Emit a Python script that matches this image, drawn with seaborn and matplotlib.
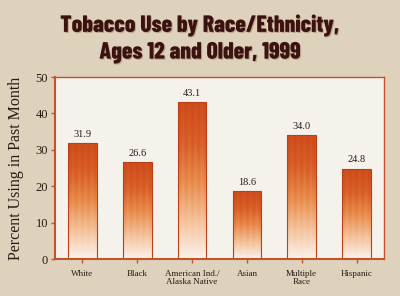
import numpy as np
import pandas as pd
import matplotlib
matplotlib.use("Agg")
import matplotlib.pyplot as plt
import matplotlib.patheffects as pe
from matplotlib.colors import LinearSegmentedColormap
import seaborn as sns

categories = ["White", "Black", "American Ind./\nAlaska Native", "Asian", "Multiple\nRace", "Hispanic"]
values = [31.9, 26.6, 43.1, 18.6, 34.0, 24.8]
value_labels = ["31.9", "26.6", "43.1", "18.6", "34.0", "24.8"]
yticks = [0, 10, 20, 30, 40, 50]

title = "Tobacco Use by Race/Ethnicity,\nAges 12 and Older, 1999"
ylabel = "Percent Using in Past Month"

sns.set_theme(style="white")
plt.rcParams['font.family'] = ['Liberation Serif', 'DejaVu Serif']

BG = "#DED2BC"
PLOT_BG = "#F4F2EA"
FRAME = "#C4532C"

fig = plt.figure(figsize=(4.0, 2.96), dpi=100, facecolor=BG)
ax = fig.add_axes([55/400, 1-259/296, (384-55)/400, (259-77)/296])
ax.set_facecolor(PLOT_BG)

df = pd.DataFrame({"cat": categories, "val": values})
sns.barplot(data=df, x="cat", y="val", ax=ax, width=0.52, color="#D8602A",
            edgecolor="#B8401A", linewidth=0.8, saturation=1)

cmap = LinearSegmentedColormap.from_list(
    "grad", ["#FBF2EA", "#F4C098", "#E88A4A", "#D85E26", "#CE4C1C"])
ny, nx = 200, 40
yy = np.linspace(0, 1, ny)[:, None]
xx = np.linspace(0, 1, nx)[None, :]
stripes = 0.06 * np.sin(xx * np.pi * 9) * yy
for p in ax.patches:
    x0, w, h = p.get_x(), p.get_width(), p.get_height()
    grad = np.clip(yy * np.ones_like(xx) + stripes, 0, 1)
    im = ax.imshow(grad, cmap=cmap, vmin=0, vmax=1, origin="lower",
                   extent=[x0, x0 + w, 0, h], aspect="auto", zorder=p.get_zorder() + 0.1)
    im.set_clip_path(p)
    p.set_facecolor("none")
    p.set_zorder(p.get_zorder() + 0.2)

for i, (v, lab) in enumerate(zip(values, value_labels)):
    ax.text(i, v + 1.2, lab, ha="center", va="bottom", fontsize=7.5, color="#2A1A14")

ax.set_xlim(-0.5, len(categories) - 0.5)
ax.set_ylim(0, 50)
ax.set_yticks(yticks)
ax.set_yticklabels([str(t) for t in yticks], fontsize=9, color="#2A1A14")
ax.set_xticks(range(len(categories)))
ax.set_xticklabels(categories, fontsize=6.5, color="#2A1A14", linespacing=1.0)
ax.set_xlabel("")
ax.set_ylabel(ylabel, fontsize=11.5, color="#2A1A14", labelpad=8)
ax.tick_params(axis="both", which="both", direction="out", length=3, width=1,
               color=FRAME, pad=2)
ax.tick_params(axis="x", pad=5)
ax.tick_params(left=True, bottom=True)
for s in ax.spines.values():
    s.set_visible(True)
    s.set_color(FRAME)
    s.set_linewidth(1.0)
ax.spines["left"].set_linewidth(1.5)
ax.spines["bottom"].set_linewidth(1.5)

fig.text(0.5, 1 - 39/296, title, ha="center", va="center", fontsize=17,
         fontweight=800, color="#3A1210", linespacing=1.25,
         family=["Barlow Condensed", "DejaVu Sans"],
         path_effects=[pe.withSimplePatchShadow(offset=(0.8, -0.8), shadow_rgbFace="#B08A70", alpha=0.6)])

fig.savefig("out.png", dpi=100, facecolor=BG)
